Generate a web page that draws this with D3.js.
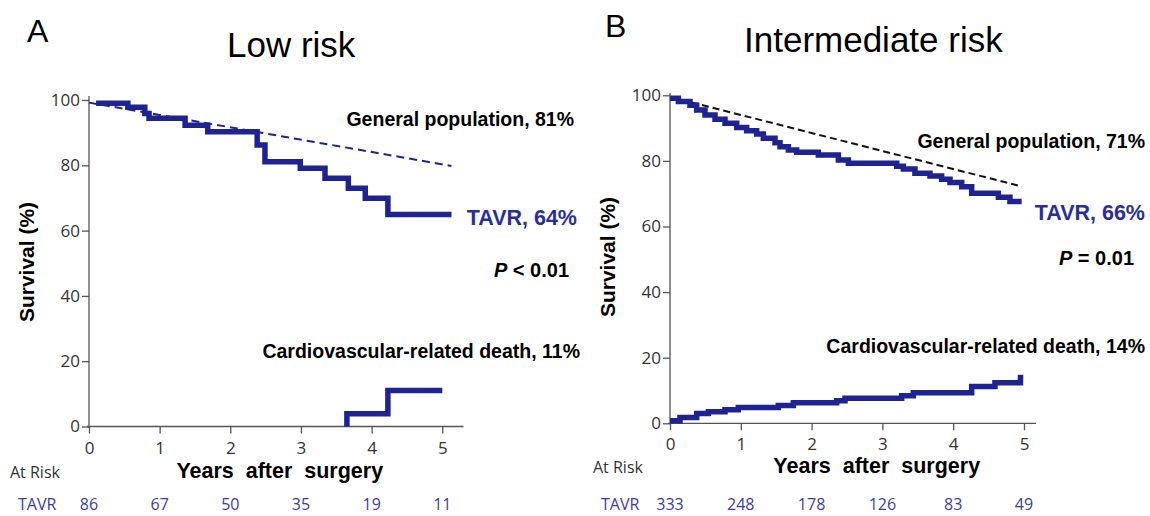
<!DOCTYPE html>
<html>
<head>
<meta charset="utf-8">
<script src="https://cdn.jsdelivr.net/npm/d3@7"></script>
<style>
  body { margin: 0; background: #fff; }
  svg { display: block; }
  .bold { font-family: "Liberation Sans", Arial, sans-serif; font-weight: bold; }
  .tick text { font-family: "Open Sans", sans-serif; font-size: 17px; fill: #333; }
  .risk { font-family: "Open Sans", sans-serif; font-size: 16px; }
</style>
</head>
<body>
<svg id="chart" width="1150" height="516"></svg>
<script>
// ---- data ----
var yearTicks = [0, 1, 2, 3, 4, 5];
var pctTicks = [0, 20, 40, 60, 80, 100];

// low risk (A)
var lowTavrYears = [0.1, 0.55, 0.79, 0.85, 1.36, 1.68, 2.38, 2.49, 2.99, 3.34, 3.67, 3.91, 4.23, 5.13];
var lowTavrPct   = [99.0, 97.8, 95.9, 94.4, 92.3, 90.3, 86.2, 81.1, 79.1, 76.0, 73.0, 69.9, 64.9, 64.9];
var lowGenYears  = [0, 5.13];
var lowGenPct    = [99.2, 79.8];
var lowCvYears   = [3.65, 3.65, 4.23, 5.0];
var lowCvPct     = [0, 3.9, 11, 11];
var lowAtRisk    = [86, 67, 50, 35, 19, 11];

// intermediate risk (B)
var intTavrYears = [0, 0.118, 0.282, 0.377, 0.494, 0.636, 0.777, 0.942, 1.083, 1.224, 1.318, 1.483, 1.554, 1.672,
                    1.789, 2.095, 2.378, 2.519, 3.202, 3.296, 3.46, 3.672, 3.837, 3.955, 4.12, 4.261, 4.638, 4.802, 4.967];
var intTavrPct   = [99.1, 98.1, 97.0, 95.5, 94.0, 92.7, 91.5, 90.2, 89.2, 88.2, 86.9, 85.5, 84.3, 83.3,
                    82.6, 81.8, 80.3, 79.3, 78.4, 77.5, 76.2, 75.4, 74.4, 73.4, 72.1, 70.1, 68.9, 67.6, 67.6];
var intGenYears  = [0, 4.97];
var intGenPct    = [99.5, 72.2];
var intCvYears   = [0, 0.141, 0.377, 0.542, 0.777, 0.965, 1.53, 1.742, 2.354, 2.472, 3.272, 3.437, 4.261, 4.59, 4.95, 4.99];
var intCvPct     = [0.8, 1.8, 3.0, 3.5, 4.1, 4.8, 5.4, 6.3, 6.9, 7.6, 8.4, 9.3, 11.2, 12.4, 14.0, 14.0];
var intAtRisk    = [333, 248, 178, 126, 83, 49];

var navy = "#1e2391";
var labelBlue = "#2a2e9c";
var riskBlue = "#3a3ca8";

var svg = d3.select("#chart");

function zip(xs, ys) {
  return xs.map(function(v, i) { return [v, ys[i]]; });
}

function drawPanel(o) {
  var x = d3.scaleLinear().domain([0, 5]).range([o.left, o.right]);
  var y = d3.scaleLinear().domain([0, 100]).range([o.bottom, o.top]);
  var g = svg.append("g");

  // axes
  g.append("g")
    .attr("transform", "translate(" + x(0) + ",0)")
    .call(d3.axisLeft(y).tickValues(pctTicks).tickFormat(d3.format("d"))
      .tickSize(7).tickPadding(2).tickSizeOuter(0));
  g.append("g")
    .attr("transform", "translate(0," + y(0) + ")")
    .call(d3.axisBottom(x).tickValues(yearTicks).tickFormat(d3.format("d"))
      .tickSize(7).tickPadding(8).tickSizeOuter(0));
  g.selectAll(".domain").remove();
  g.selectAll(".tick line").attr("stroke", "#555").attr("stroke-width", 1.3);
  g.append("line")
    .attr("x1", x(0)).attr("x2", x(0))
    .attr("y1", y(-0.3)).attr("y2", y(o.yTop))
    .attr("stroke", "#555").attr("stroke-width", 1.3);
  g.append("line")
    .attr("x1", x(-0.03)).attr("x2", x(o.xEnd))
    .attr("y1", y(0)).attr("y2", y(0))
    .attr("stroke", "#555").attr("stroke-width", 1.3);

  var step = d3.line()
    .x(function(d) { return x(d[0]); })
    .y(function(d) { return y(d[1]); })
    .curve(d3.curveStepAfter);
  var straight = d3.line()
    .x(function(d) { return x(d[0]); })
    .y(function(d) { return y(d[1]); });

  // general population
  g.append("path")
    .attr("d", straight(o.gen))
    .attr("fill", "none")
    .attr("stroke", o.genColor)
    .attr("stroke-width", 2)
    .attr("stroke-dasharray", o.genDash);

  // TAVR survival and CV death
  [o.tavr, o.cv].forEach(function(series) {
    g.append("path")
      .attr("d", step(series))
      .attr("fill", "none")
      .attr("stroke", navy)
      .attr("stroke-width", 5.5)
      .attr("stroke-linejoin", "miter");
  });

  // panel letter + title
  g.append("text").attr("x", o.letterX).attr("y", o.letterY)
    .attr("font-family", "Liberation Sans, Arial, sans-serif").attr("font-size", 32)
    .text(o.letter);
  g.append("text").attr("x", o.titleX).attr("y", o.titleY)
    .attr("font-family", "Liberation Sans, Arial, sans-serif").attr("font-size", 35)
    .text(o.title);

  // annotations
  g.append("text").attr("class", "bold").attr("font-size", 19.5)
    .attr("x", o.textRight).attr("y", o.genY).attr("text-anchor", "end")
    .text(o.genLabel);
  g.append("text").attr("class", "bold").attr("font-size", 21.5).attr("fill", labelBlue)
    .attr("x", o.tavrRight).attr("y", o.tavrY).attr("text-anchor", "end")
    .text(o.tavrLabel);
  var p = g.append("text").attr("class", "bold").attr("font-size", 20)
    .attr("x", o.pRight).attr("y", o.pY).attr("text-anchor", "end");
  p.append("tspan").attr("font-style", "italic").text("P");
  p.append("tspan").text(o.pLabel);
  g.append("text").attr("class", "bold").attr("font-size", 19.5)
    .attr("x", o.cvRight).attr("y", o.cvY).attr("text-anchor", "end")
    .text(o.cvLabel);

  // axis titles
  g.append("text").attr("class", "bold").attr("font-size", 21)
    .attr("transform", "translate(" + o.yTitleX + "," + o.yTitleY + ") rotate(-90)")
    .attr("text-anchor", "middle")
    .text("Survival (%)");
  g.append("text").attr("class", "bold").attr("font-size", 21.5)
    .attr("x", x(o.xTitleAt)).attr("y", o.xTitleY).attr("text-anchor", "middle")
    .attr("xml:space", "preserve").style("white-space", "pre")
    .text("Years  after  surgery");

  // at risk table
  g.append("text").attr("class", "risk").attr("fill", "#333")
    .attr("x", o.atRiskX).attr("y", o.atRiskY).text("At Risk");
  g.append("text").attr("class", "risk").attr("fill", riskBlue)
    .attr("x", o.tavrRowX).attr("y", o.rowY).text("TAVR");
  g.selectAll(".risknum").data(o.atRisk).enter().append("text")
    .attr("class", "risk risknum").attr("fill", riskBlue)
    .attr("x", function(d, i) { return x(yearTicks[i]); })
    .attr("y", o.rowY).attr("text-anchor", "middle")
    .text(function(d) { return d; });
}

drawPanel({
  left: 89, right: 442.3, top: 100, bottom: 426.5, yTop: 101.2, xEnd: 5.3,
  tavr: zip(lowTavrYears, lowTavrPct), gen: zip(lowGenYears, lowGenPct), cv: zip(lowCvYears, lowCvPct),
  genColor: navy, genDash: "8,5",
  letter: "A", letterX: 27, letterY: 42, title: "Low risk", titleX: 227, titleY: 57,
  textRight: 574, genY: 126, genLabel: "General population, 81%",
  tavrRight: 577, tavrY: 225, tavrLabel: "TAVR, 64%",
  pRight: 569, pY: 277, pLabel: " < 0.01",
  cvRight: 580, cvY: 358, cvLabel: "Cardiovascular-related death, 11%",
  yTitleX: 34, yTitleY: 262, xTitleAt: 2.7, xTitleY: 478,
  atRiskX: 10, atRiskY: 478, tavrRowX: 18, rowY: 510, atRisk: lowAtRisk
});

drawPanel({
  left: 670, right: 1024, top: 95.3, bottom: 423.3, yTop: 100.7, xEnd: 5.17,
  tavr: zip(intTavrYears, intTavrPct), gen: zip(intGenYears, intGenPct), cv: zip(intCvYears, intCvPct),
  genColor: "#111", genDash: "7,4",
  letter: "B", letterX: 605, letterY: 37, title: "Intermediate risk", titleX: 744, titleY: 52,
  textRight: 1145, genY: 148, genLabel: "General population, 71%",
  tavrRight: 1145, tavrY: 220, tavrLabel: "TAVR, 66%",
  pRight: 1134, pY: 265, pLabel: " = 0.01",
  cvRight: 1145, cvY: 353, cvLabel: "Cardiovascular-related death, 14%",
  yTitleX: 615, yTitleY: 257, xTitleAt: 2.92, xTitleY: 473,
  atRiskX: 593, atRiskY: 473, tavrRowX: 601, rowY: 510, atRisk: intAtRisk
});
</script>
</body>
</html>
